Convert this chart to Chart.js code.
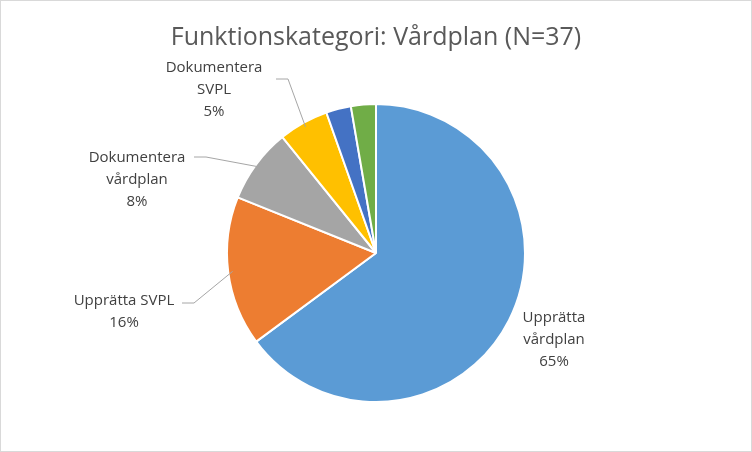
<!DOCTYPE html>
<html><head><meta charset="utf-8">
<script src="https://cdn.jsdelivr.net/npm/chart.js@4"></script>
<style>body{margin:0;background:#fff}canvas{display:block}</style>
</head><body>
<canvas id="c" width="752" height="452"></canvas>
<script>
const titleText = "Funktionskategori: Vårdplan (N=37)";
const categories = ["Upprätta vårdplan","Upprätta SVPL","Dokumentera vårdplan","Dokumentera SVPL","Övrigt 1","Övrigt 2"];
const counts = [24, 6, 3, 2, 1, 1];
const labelLines = [["Upprätta","vårdplan","65%"],["Upprätta SVPL","16%"],["Dokumentera","vårdplan","8%"],["Dokumentera","SVPL","5%"],null,null];
const colors = ["#5B9BD5","#ED7D31","#A5A5A5","#FFC000","#4472C4","#70AD47"];
// label placement (pixel offsets from chart centre) and leader anchors
const labelPos = [[178,87,null],[-252,59,[-194,50]],[-239,-73,[-182,-96]],[-162,-163,[-100,-174]],null,null];

const deco = {
  id:'deco',
  beforeDraw(ch){
    const c=ch.ctx;c.save();c.fillStyle='#fff';c.fillRect(0,0,752,452);
    c.strokeStyle='#d9d9d9';c.lineWidth=1;c.strokeRect(0.5,0.5,751,451);
    c.fillStyle='#595959';c.font='25px "Open Sans", sans-serif';c.textAlign='center';c.textBaseline='middle';
    c.fillText(titleText,376,38);c.restore();
  },
  afterDraw(ch){
    const c=ch.ctx;const meta=ch.getDatasetMeta(0);
    c.save();c.font='15px "Open Sans", sans-serif';c.fillStyle='#404040';c.textAlign='center';c.textBaseline='middle';
    meta.data.forEach((arc,i)=>{
      const lp=labelPos[i];if(!lp)return;
      const cx=arc.x,cy=arc.y,r=arc.outerRadius;
      const lines=labelLines[i];const lh=22;
      const x=cx+lp[0],y=cy+lp[1];
      lines.forEach((t,k)=>c.fillText(t,x,y+(k-(lines.length-1)/2)*lh));
      if(lp[2]){
        const mid=(arc.startAngle+arc.endAngle)/2;
        const ex=cx+Math.cos(mid)*r*0.97,ey=cy+Math.sin(mid)*r*0.97;
        const sx=cx+lp[2][0],sy=cy+lp[2][1];
        c.strokeStyle='#a6a6a6';c.lineWidth=1;c.beginPath();
        c.moveTo(sx,sy);c.lineTo(sx+12,sy);c.lineTo(ex,ey);c.stroke();
      }
    });
    c.restore();
  }
};
new Chart(document.getElementById('c'),{
  type:'pie',
  data:{labels:categories,datasets:[{data:counts,backgroundColor:colors,borderColor:'#fff',borderWidth:2}]},
  options:{responsive:false,animation:false,
    layout:{padding:{top:103,bottom:49,left:0,right:0}},
    plugins:{legend:{display:false},title:{display:false},tooltip:{enabled:false}}},
  plugins:[deco]
});
</script>
</body></html>
